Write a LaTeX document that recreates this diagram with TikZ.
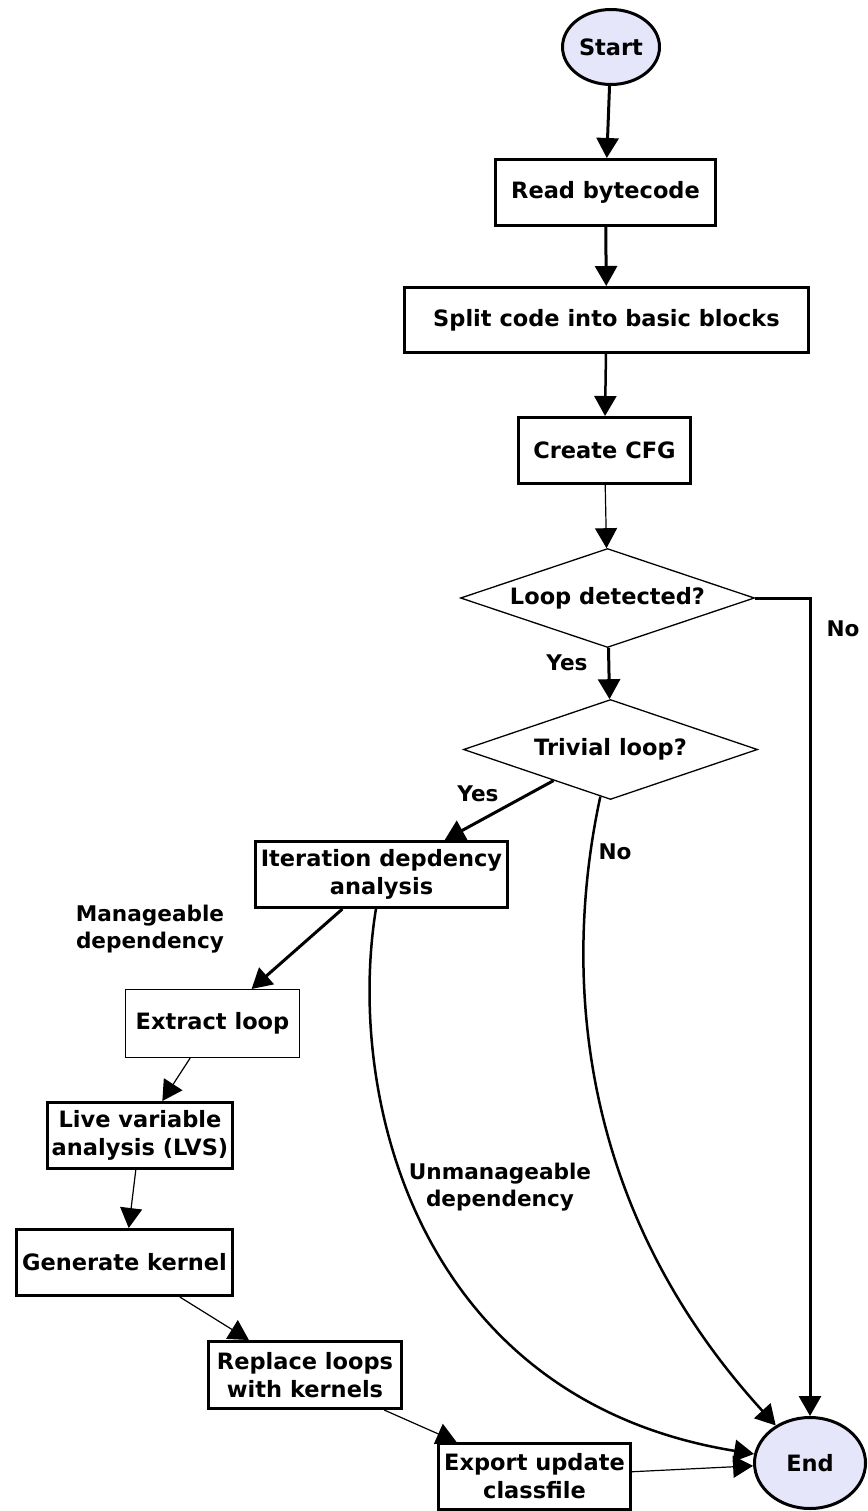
\documentclass[tikz,border=0pt]{standalone}
\usepackage{fontspec}
\setmainfont{DejaVu Sans}
\usetikzlibrary{arrows.meta,shapes.geometric}
\definecolor{lav}{HTML}{E6E6FA}
\begin{document}
\begin{tikzpicture}[x=1pt,y=-1pt,
 every node/.style={font=\bfseries\fontsize{22.5}{28}\selectfont, align=center, inner sep=0pt},
 box/.style={draw, rectangle, line width=3pt},
 thinbox/.style={draw, rectangle, line width=1pt},
 term/.style={draw, ellipse, line width=3pt, fill=lav},
 dec/.style={draw, diamond, line width=1.3pt, aspect=2.95},
 arr/.style={-{Triangle[length=20pt,width=22pt]}},
 thk/.style={arr, line width=3pt},
 thn/.style={arr, line width=1.2pt},
 lbl/.style={font=\bfseries\fontsize{21.6}{27}\selectfont}
]
\useasboundingbox (0,0) rectangle (867,1511);
\node[term, minimum width=97, minimum height=75] (start) at (611,47) {Start};
\node[box, minimum width=220, minimum height=66] (read) at (605.5,192.5) {Read bytecode};
\node[box, minimum width=404, minimum height=65] (split) at (606.5,320) {Split code into basic blocks};
\node[box, minimum width=172, minimum height=66] (cfg) at (604.5,450.5) {Create CFG};
\node[dec, minimum width=294, minimum height=99] (loop) at (607.5,598) {Loop detected?};
\node[dec, minimum width=294, minimum height=100] (triv) at (610.5,749.5) {Trivial loop?};
\node[box, minimum width=252, minimum height=66] (iter) at (381.5,874.5) {Iteration depdency\\analysis};
\node[thinbox, minimum width=174, minimum height=68] (extract) at (212.5,1023.5) {Extract loop};
\node[box, minimum width=185, minimum height=66] (live) at (140,1135.5) {Live variable\\analysis (LVS)};
\node[box, minimum width=216, minimum height=66] (gen) at (124.5,1262.5) {Generate kernel};
\node[box, minimum width=193, minimum height=67] (repl) at (305,1375) {Replace loops\\with kernels};
\node[box, minimum width=192, minimum height=66] (export) at (534.5,1476.5) {Export update\\classfile};
\node[term, minimum width=111, minimum height=91] (end) at (810,1463) {End};

\draw[thk] (start) -- (read);
\draw[thk] (read) -- (split);
\draw[thk, line width=2.5pt] (split) -- (cfg);
\draw[thn] (cfg) -- (loop);
\draw[thk] (loop) -- (triv);
\draw[thk] (loop.east) -| (end.north);
\draw[thk] (triv) -- (iter);
\draw[thk, line width=2.5pt] (triv) .. controls (565,960) and (570,1200) .. (end);
\draw[thk] (iter) -- (extract);
\draw[thk, line width=2.5pt] (iter) .. controls (345,1100) and (420,1400) .. (end);
\draw[thn] (extract) -- (live);
\draw[thn] (live) -- (gen);
\draw[thn] (gen) -- (repl);
\draw[thn] (repl) -- (export);
\draw[thn] (export) -- (end);

\node[lbl] (yes1) at (567,663) {Yes};
\node[lbl] (no1) at (843,629) {No};
\node[lbl] (yes2) at (478,794) {Yes};
\node[lbl] (no2) at (615,852) {No};
\node[lbl] (mdep) at (150,929) {Manageable\\dependency};
\node[lbl] (udep) at (500,1187) {Unmanageable\\dependency};
\end{tikzpicture}
\end{document}
